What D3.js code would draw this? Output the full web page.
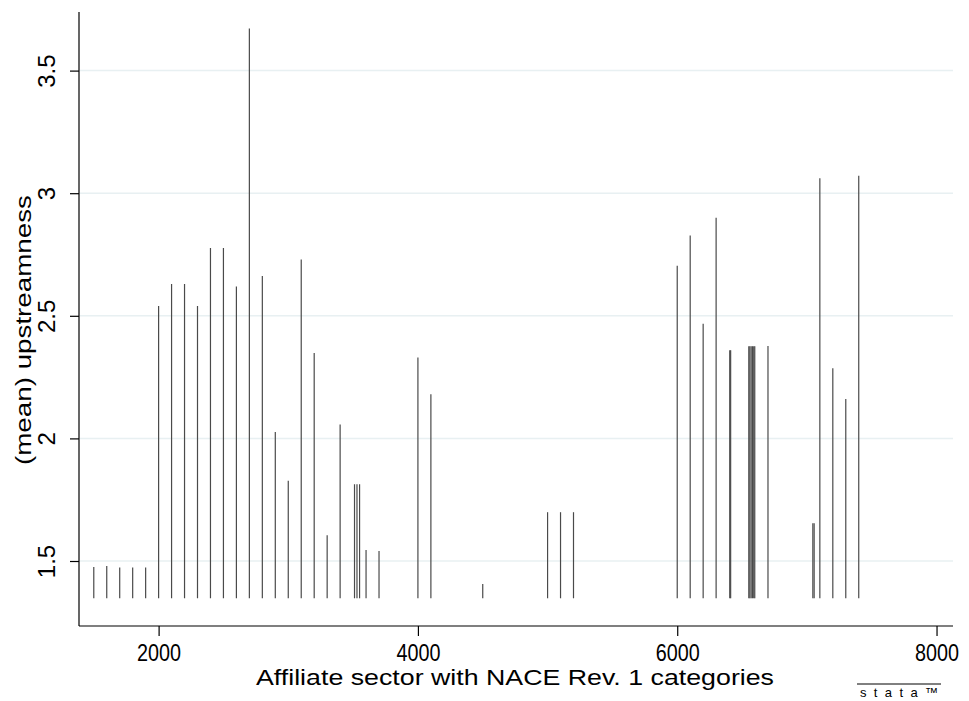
<!DOCTYPE html>
<html>
<head>
<meta charset="utf-8">
<script src="https://cdn.jsdelivr.net/npm/d3@7"></script>
<style>
  body { margin: 0; background: #fff; }
  text { font-family: "Liberation Sans", Arial, sans-serif; fill: #000; }
</style>
</head>
<body>
<div id="chart"></div>
<script>
// affiliate sector codes (NACE Rev. 1) and mean upstreamness
var sectors = [1500, 1600, 1700, 1800, 1900, 2000, 2100, 2200, 2300, 2400,
  2500, 2600, 2700, 2800, 2900, 3000, 3100, 3200, 3300, 3400,
  3511, 3530, 3550, 3600, 3700, 4000, 4100, 4500, 5000, 5100,
  5200, 6000, 6100, 6200, 6300, 6405, 6412, 6552, 6560, 6570,
  6580, 6590, 6598, 6700, 7046, 7056, 7100, 7200, 7300, 7400];
var upstreamness = [1.476, 1.480, 1.473, 1.473, 1.473, 2.54, 2.63, 2.63, 2.54, 2.777,
  2.777, 2.62, 3.672, 2.662, 2.026, 1.827, 2.73, 2.348, 1.605, 2.057,
  1.813, 1.813, 1.813, 1.545, 1.541, 2.33, 2.18, 1.406, 1.699, 1.699,
  1.699, 2.704, 2.827, 2.468, 2.90, 2.359, 2.359, 2.376, 2.376, 2.376,
  2.376, 2.376, 2.376, 2.377, 1.654, 1.654, 3.061, 2.286, 2.161, 3.071];
var xTicks = [2000, 4000, 6000, 8000];
var yTicks = [1.5, 2, 2.5, 3, 3.5];
var spikeBase = 1.348;

var W = 969, H = 701;
var plotLeft = 79, plotRight = 953, plotTop = 12, plotBottom = 626;

var svg = d3.select("#chart").append("svg")
    .attr("width", W)
    .attr("height", H);

var x = d3.scaleLinear()
    .domain([1386, 8127])
    .range([plotLeft, plotRight]);

var y = d3.scaleLinear()
    .domain([1.2349, 3.739])
    .range([plotBottom, plotTop]);

// gridlines
svg.append("g")
    .selectAll("line")
    .data(yTicks)
    .enter()
    .append("line")
    .attr("x1", plotLeft + 1)
    .attr("x2", plotRight)
    .attr("y1", function (d) { return y(d); })
    .attr("y2", function (d) { return y(d); })
    .attr("stroke", "#e8f0f2")
    .attr("stroke-width", 1.5);

// spikes
svg.append("g")
    .selectAll("line")
    .data(sectors)
    .enter()
    .append("line")
    .attr("x1", function (d) { return x(d); })
    .attr("x2", function (d) { return x(d); })
    .attr("y1", y(spikeBase))
    .attr("y2", function (d, i) { return y(upstreamness[i]); })
    .attr("stroke", "#4a4a4a")
    .attr("stroke-width", 1.2);

// y axis
var yAxis = d3.axisLeft(y).tickValues(yTicks).tickSize(9)
    .tickFormat(function (d) { return String(d); });
var gy = svg.append("g")
    .attr("transform", "translate(" + plotLeft + ",0)")
    .call(yAxis);
gy.select(".domain").attr("d", "M0," + plotTop + "V" + plotBottom).attr("stroke", "#000").attr("stroke-width", 1.2);
gy.selectAll(".tick line").attr("stroke", "#000").attr("stroke-width", 1.2);
gy.selectAll(".tick text")
    .attr("font-size", 24)
    .attr("font-family", "Liberation Sans, Arial, sans-serif")
    .attr("text-anchor", "middle")
    .attr("x", 0).attr("y", 0).attr("dy", 0)
    .attr("transform", "translate(-24,0) rotate(-90)");

// x axis
var xAxis = d3.axisBottom(x).tickValues(xTicks).tickSize(10)
    .tickFormat(d3.format("d"));
var gx = svg.append("g")
    .attr("transform", "translate(0," + plotBottom + ")")
    .call(xAxis);
gx.select(".domain").attr("d", "M" + plotLeft + ",0H" + plotRight).attr("stroke", "#000").attr("stroke-width", 1.2);
gx.selectAll(".tick line").attr("stroke", "#000").attr("stroke-width", 1.2);
gx.selectAll(".tick text")
    .attr("font-size", 23)
    .attr("font-family", "Liberation Sans, Arial, sans-serif")
    .attr("y", 0).attr("dy", 0)
    .attr("transform", "translate(0,35) scale(0.86,1)");

// titles
svg.append("text")
    .attr("x", 515)
    .attr("y", 685)
    .attr("text-anchor", "middle")
    .attr("font-size", 22)
    .attr("textLength", 518)
    .attr("lengthAdjust", "spacingAndGlyphs")
    .text("Affiliate sector with NACE Rev. 1 categories");

svg.append("text")
    .attr("transform", "translate(31," + 330 + ") rotate(-90)")
    .attr("text-anchor", "middle")
    .attr("font-size", 22)
    .attr("textLength", 270)
    .attr("lengthAdjust", "spacingAndGlyphs")
    .text("(mean) upstreamness");

// stata mark
svg.append("line")
    .attr("x1", 857).attr("x2", 941)
    .attr("y1", 684).attr("y2", 684)
    .attr("stroke", "#000").attr("stroke-width", 1);
svg.append("text")
    .attr("x", 860).attr("y", 697)
    .attr("font-size", 13)
    .attr("textLength", 78)
    .attr("lengthAdjust", "spacing")
    .attr("font-family", "DejaVu Sans, sans-serif")
    .text("stata\u2122");
</script>
</body>
</html>
